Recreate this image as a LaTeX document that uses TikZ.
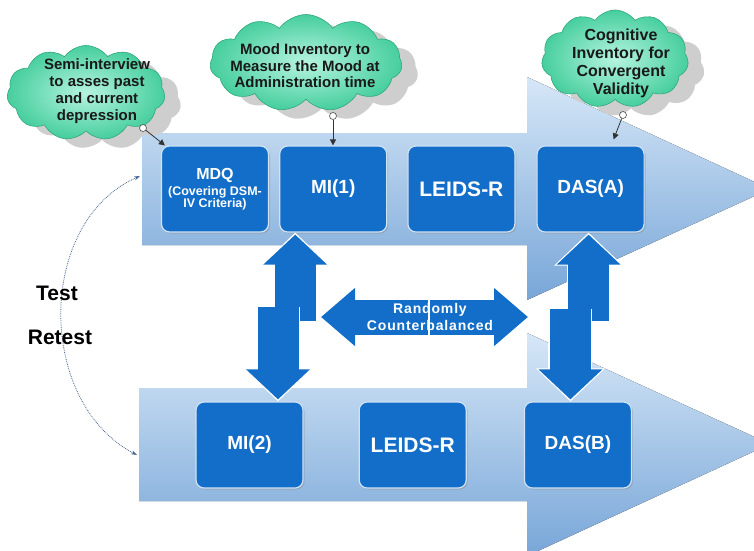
\documentclass[tikz,border=0pt]{standalone}
\usepackage{fontspec}
\setmainfont{Liberation Sans}
\usetikzlibrary{positioning,calc,shapes.symbols,shadows,arrows.meta}

\definecolor{boxblue}{RGB}{18,110,200}
\definecolor{bandtop}{RGB}{214,231,247}
\definecolor{bandbot}{RGB}{120,166,216}
\definecolor{cloudin}{RGB}{182,244,224}
\definecolor{cloudout}{RGB}{70,206,158}
\definecolor{cloudline}{RGB}{48,168,124}
\definecolor{shadowgray}{RGB}{206,206,206}
\definecolor{curveblue}{RGB}{70,100,145}

\tikzset{
  band/.style={top color=bandtop, bottom color=bandbot},
  stage/.style={rectangle, rounded corners=8pt, fill=boxblue, draw=white!80!boxblue,
    line width=1.2pt, minimum width=107pt, minimum height=86pt, text=white,
    font=\fontsize{19}{21}\selectfont\bfseries, align=center,
    drop shadow={shadow xshift=1.5pt, shadow yshift=-1.5pt, opacity=0.35}},
  bubble/.style={cloud, cloud puffs=11, cloud puff arc=110, cloud ignores aspect,
    inner color=cloudin, outer color=cloudout, draw=cloudline, line width=0.6pt,
    drop shadow={shadow xshift=16pt, shadow yshift=-9pt, fill=shadowgray, opacity=1}},
  bubbletext/.style={font=\fontsize{15}{16.5}\selectfont\bfseries, align=center, text=black!90},
  knob/.style={circle, draw=black!70, fill=white, line width=0.6pt, minimum size=7pt, inner sep=0pt},
  tag/.style={draw=black!80, line width=0.8pt, -{Triangle[length=6pt,width=6pt]}},
  vblock/.style={draw=boxblue, line width=41pt, shorten >=2pt, shorten <=2pt,
    -{Triangle[width=62pt,length=30pt]},
    preaction={draw=white, line width=44pt, shorten >=0pt, shorten <=0pt,
      -{Triangle[width=67pt,length=33pt]}}},
  hblock/.style={draw=boxblue, line width=35pt, shorten >=2pt, shorten <=2pt,
    -{Triangle[width=56pt,length=34pt]},
    preaction={draw=white, line width=38pt, shorten >=0pt, shorten <=0pt,
      -{Triangle[width=61pt,length=37pt]}}},
  side/.style={font=\fontsize{21}{24}\selectfont\bfseries}
}

\begin{document}
\begin{tikzpicture}[x=1pt,y=-1pt]
\useasboundingbox (0,0) rectangle (754,550);
\clip (0,0) rectangle (754,550);

% the two time lines
\fill[band] (142,133) -- (527,133) -- (527,77) -- (770,189) -- (527,300) -- (527,245) -- (142,245) -- cycle;
\fill[band] (139,388) -- (527,388) -- (527,333) -- (770,444) -- (527,556) -- (527,501) -- (139,501) -- cycle;

% test session
\node[stage, font=\fontsize{12.5}{12.5}\selectfont\bfseries] (mdq) at (215,189) {{\fontsize{16}{18}\selectfont MDQ}\\[3.5pt](Covering DSM-\\IV Criteria)};
\node[stage] (mi1) [right=10pt of mdq] {MI(1)};
\node[stage, font=\fontsize{21}{23}\selectfont\bfseries] (leidsA) [right=20pt of mi1] {LEIDS-R};
\node[stage] (dasA) [right=21pt of leidsA] {DAS(A)};

% retest session
\node[stage] (mi2) at (249.5,445) {MI(2)};
\node[stage, font=\fontsize{21}{23}\selectfont\bfseries] (leidsB) [right=55pt of mi2] {LEIDS-R};
\node[stage] (dasB) [right=57pt of leidsB] {DAS(B)};

% clouds
\node[bubble, minimum width=158pt, minimum height=95pt] (cloud1) at (86,93) {};
\node[bubbletext, font=\fontsize{15}{17}\selectfont\bfseries] (note1) at (97,91) {Semi-interview\\to asses past\\and current\\depression};
\node[bubble, minimum width=192pt, minimum height=97pt] (cloud2) at (306,63) {};
\node[bubbletext] (note2) at (305,66) {Mood Inventory to\\Measure the Mood at\\Administration time};
\node[bubble, minimum width=147pt, minimum height=98pt] (cloud3) at (615,59) {};
\node[bubbletext, font=\fontsize{16}{18}\selectfont\bfseries] (note3) at (621,63) {Cognitive\\Inventory for\\Convergent\\Validity};

\node[knob] (k1) at (143,128) {};
\node[knob] (k2) at (333,116) {};
\node[knob] (k3) at (623,115) {};
\draw[tag] (k1) -- ([xshift=4pt]mdq.north west);
\draw[tag] (k2) -- (k2 |- mi1.north);
\draw[tag] (k3) -- ($(dasA.north)+(23,-6)$);

% block arrows
\draw[vblock] ($(mi1.south)+(-38,90)$) -- ($(mi1.south)+(-38,0)$);
\draw[vblock, shorten <=0pt] ($(mi2.north)+(28.5,-94)$) -- ($(mi2.north)+(28.5,0)$);
\draw[vblock] ($(dasA.south)+(-2,90)$) -- ($(dasA.south)+(-2,0)$);
\draw[vblock, shorten <=0pt] ($(dasB.north)+(-7.5,-92)$) -- ($(dasB.north)+(-7.5,0)$);

\coordinate (mixL) at (319,317);
\coordinate (mixR) at (530,317);
\draw[hblock] (431,317) -- (mixL);
\draw[hblock] (428,317) -- (mixR);
\node[font=\fontsize{14}{16.5}\selectfont\bfseries\addfontfeatures{LetterSpace=6}, text=white, align=center] (mix) at (430,317) {Randomly\\Counterbalanced};

% test - retest
\coordinate (topin) at (140,176);
\coordinate (botin) at (137,455);
\draw[curveblue, densely dotted, line width=0.8pt, {Stealth[length=6pt,width=4pt]}-{Stealth[length=6pt,width=4pt]}] (topin) .. controls (36,222) and (36,402) .. (botin);
\node[side] (test) at (57,293) {Test};
\node[side] (retest) at (60,337) {Retest};
\end{tikzpicture}
\end{document}
